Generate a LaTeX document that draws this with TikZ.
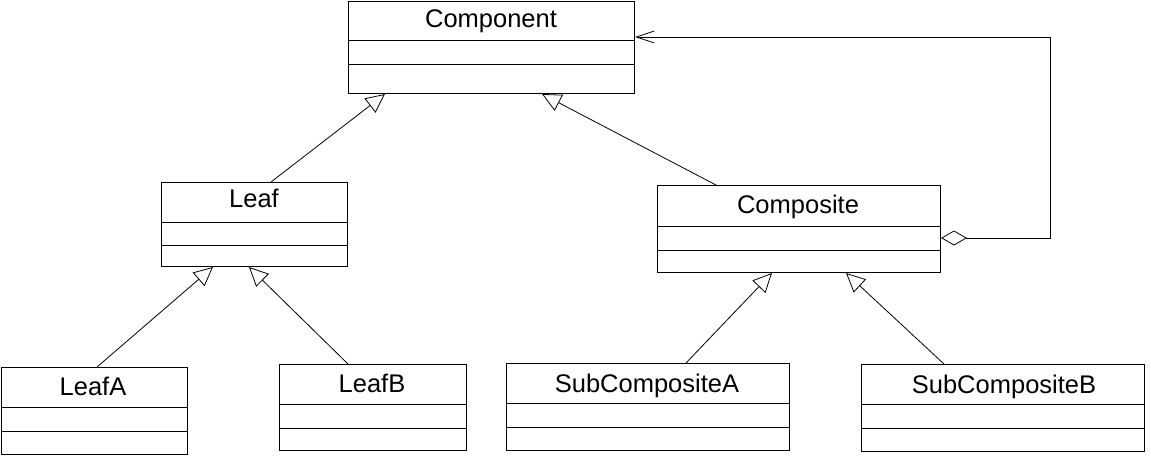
\documentclass[tikz,border=0pt]{standalone}
\usepackage{fontspec}
\setmainfont{Liberation Sans}
\usetikzlibrary{arrows.meta}
\tikzset{
  classbox/.style={draw, line width=1pt, rectangle, inner sep=0pt, anchor=north west},
  classtitle/.style={anchor=base, inner sep=0pt, font=\fontsize{25.5}{30}\selectfont},
  divider/.style={line width=1pt},
  inherit/.style={line width=0.8pt, -{Triangle[open, length=19pt, width=18pt, fill=white]}},
  aggreg/.style={line width=0.8pt, {Diamond[open, length=26pt, width=15pt, fill=white]}-{Straight Barb[length=18pt, width=12pt]}}
}
\begin{document}
\begin{tikzpicture}[x=1pt, y=-1pt]
\useasboundingbox (0,0) rectangle (1151,458);
% classes
\node[classbox, minimum width=286pt, minimum height=92pt] (comp) at (348,1) {};
\node[classtitle] (compT) at (491,27) {Component};
\draw[divider] (348,40) -- (634,40) (348,64) -- (634,64);

\node[classbox, minimum width=186pt, minimum height=84pt] (leaf) at (161,182) {};
\node[classtitle] (leafT) at (254,207) {Leaf};
\draw[divider] (161,222) -- (347,222) (161,245) -- (347,245);

\node[classbox, minimum width=283pt, minimum height=87pt] (compo) at (657,185) {};
\node[classtitle] (compoT) at (798,213) {Composite};
\draw[divider] (657,226) -- (940,226) (657,250) -- (940,250);

\node[classbox, minimum width=186pt, minimum height=87pt] (leafa) at (1,367) {};
\node[classtitle] (leafaT) at (93,395) {LeafA};
\draw[divider] (1,407) -- (188,407) (1,431) -- (188,431);

\node[classbox, minimum width=187pt, minimum height=86pt] (leafb) at (279,364) {};
\node[classtitle] (leafbT) at (372,392) {LeafB};
\draw[divider] (279,404) -- (467,404) (279,428) -- (467,428);

\node[classbox, minimum width=283pt, minimum height=87pt] (suba) at (506,363) {};
\node[classtitle] (subaT) at (647,392) {SubCompositeA};
\draw[divider] (506,403) -- (790,403) (506,427) -- (790,427);

\node[classbox, minimum width=283pt, minimum height=87pt] (subb) at (861,364) {};
\node[classtitle] (subbT) at (1004,393) {SubCompositeB};
\draw[divider] (861,404) -- (1145,404) (861,428) -- (1145,428);

% generalisations
\draw[inherit] ([xshift=110pt]leaf.north west) -- ([xshift=37pt]comp.south west);
\draw[inherit] ([xshift=59pt]compo.north west) -- ([xshift=194pt]comp.south west);
\draw[inherit] ([xshift=96pt]leafa.north west) -- ([xshift=52pt]leaf.south west);
\draw[inherit] ([xshift=69pt]leafb.north west) -- ([xshift=88pt]leaf.south west);
\draw[inherit] ([xshift=180pt]suba.north west) -- ([xshift=115pt]compo.south west);
\draw[inherit] ([xshift=83pt]subb.north west) -- ([xshift=189pt]compo.south west);

% aggregation
\coordinate (aggcorner) at (1050,37);
\draw[aggreg] ([yshift=-53pt]compo.north east) -| (aggcorner) -- ([yshift=-36pt]comp.north east);
\end{tikzpicture}
\end{document}
